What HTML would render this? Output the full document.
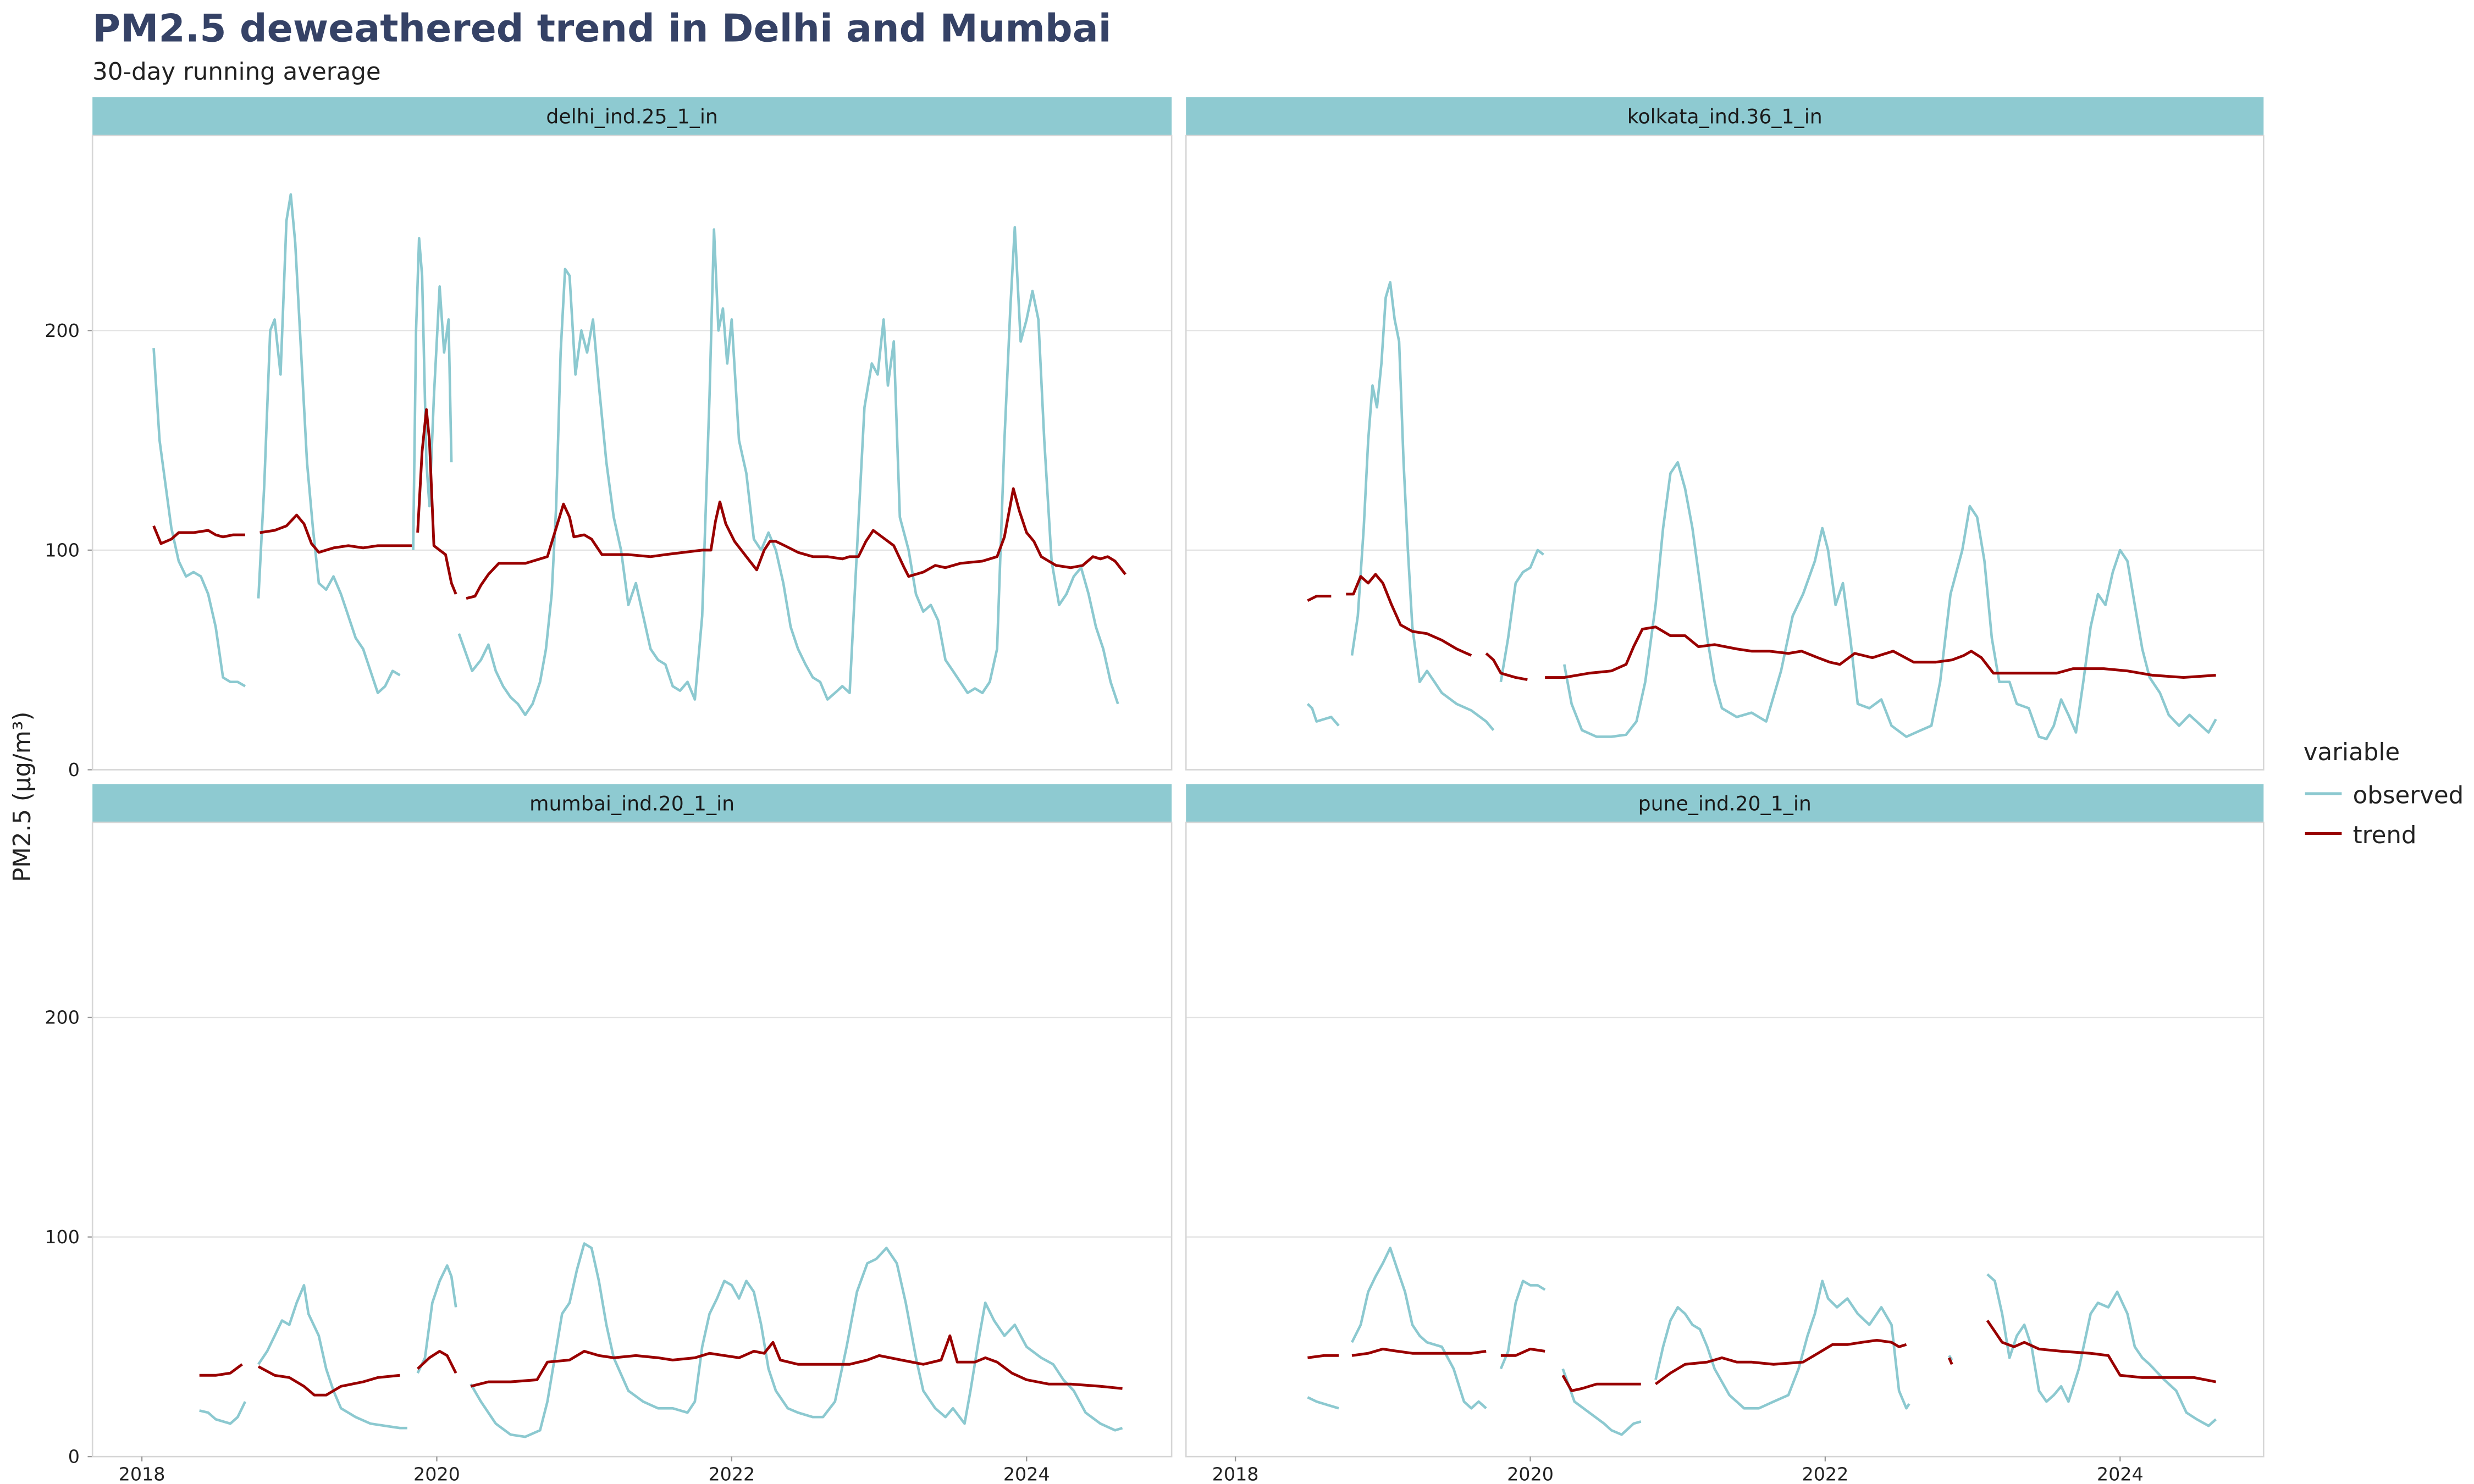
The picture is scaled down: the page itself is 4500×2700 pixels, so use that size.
<!DOCTYPE html>
<html><head><meta charset="utf-8"><style>
html,body{margin:0;padding:0;background:#fff;}
svg{display:block;font-family:"DejaVu Sans","Liberation Sans",sans-serif;}
</style></head><body>
<svg id="chart" width="4500" height="2700" viewBox="0 0 1552 931.2" xmlns="http://www.w3.org/2000/svg">
<rect width="1552" height="931.2" fill="#fff"/>
<text x="58" y="26" font-size="24" font-weight="bold" fill="#354266">PM2.5 deweathered trend in Delhi and Mumbai</text>
<text x="58" y="50" font-size="15" fill="#222">30-day running average</text>
<text transform="translate(19,500) rotate(-90)" text-anchor="middle" font-size="15" fill="#222">PM2.5 (µg/m³)</text>
<g>
<text x="1445" y="477" font-size="15" fill="#222">variable</text>
<line x1="1446" x2="1469" y1="498" y2="498" stroke="#8cc9d0" stroke-width="1.8"/>
<text x="1476" y="504" font-size="15" fill="#222">observed</text>
<line x1="1446" x2="1469" y1="523" y2="523" stroke="#990000" stroke-width="1.8"/>
<text x="1476" y="529" font-size="15" fill="#222">trend</text>
</g>
<g id="panels"></g>
</svg>
<script>
const yTickValues = [0, 100, 200];
const xTickYears = [2018, 2020, 2022, 2024];
const panelNames = ["delhi_ind.25_1_in", "kolkata_ind.36_1_in", "mumbai_ind.20_1_in", "pune_ind.20_1_in"];

// Delhi
const delhiObsYears = [2018.08,2018.12,2018.16,2018.2,2018.25,2018.3,2018.35,2018.4,2018.45,2018.5,2018.55,2018.6,2018.65,2018.7,2018.74,
 2018.79,2018.83,2018.87,2018.9,2018.94,2018.98,2019.01,2019.04,2019.08,2019.12,2019.16,2019.2,2019.25,2019.3,2019.35,2019.4,2019.45,2019.5,2019.55,2019.6,2019.65,2019.7,2019.75,2019.8,2019.83,2019.84,
 2019.86,2019.88,2019.9,2019.93,2019.95,2019.98,2020.02,2020.05,2020.08,2020.1,2020.13,2020.15,
 2020.24,2020.3,2020.35,2020.4,2020.45,2020.5,2020.55,2020.6,2020.65,2020.7,2020.74,2020.78,2020.81,2020.84,2020.87,2020.9,2020.94,2020.98,2021.02,2021.06,2021.1,2021.15,2021.2,2021.25,2021.3,2021.35,2021.4,2021.45,2021.5,2021.55,2021.6,2021.65,2021.7,2021.75,2021.8,2021.85,2021.88,2021.91,2021.94,2021.97,2022.0,2022.05,2022.1,2022.15,2022.2,2022.25,2022.3,2022.35,2022.4,2022.45,2022.5,2022.55,2022.6,2022.65,2022.7,2022.75,2022.8,2022.85,2022.9,2022.95,2022.99,2023.03,2023.06,2023.1,2023.14,2023.2,2023.25,2023.3,2023.35,2023.4,2023.45,2023.5,2023.55,2023.6,2023.65,2023.7,2023.75,2023.8,2023.85,2023.89,2023.92,2023.96,2024.0,2024.04,2024.08,2024.12,2024.17,2024.22,2024.27,2024.32,2024.37,2024.42,2024.47,2024.52,2024.57,2024.62,2024.67];
const delhiObsValues = [192,150,130,110,95,88,90,88,80,65,42,40,40,38,null,
 78,130,200,205,180,250,262,240,190,140,110,85,82,88,80,70,60,55,45,35,38,45,43,null,null,
 100,200,242,225,140,120,170,220,190,205,140,null,
 62,45,50,57,45,38,33,30,25,30,40,55,80,120,190,228,225,180,200,190,205,175,140,115,100,75,85,70,55,50,48,38,36,40,32,70,170,246,200,210,185,205,150,135,105,100,108,100,85,65,55,48,42,40,32,35,38,35,100,165,185,180,205,175,195,115,100,80,72,75,68,50,45,40,35,37,35,40,55,150,210,247,195,205,218,205,150,95,75,80,88,92,80,65,55,40,30];
const delhiTrendYears = [2018.08,2018.13,2018.2,2018.25,2018.35,2018.45,2018.5,2018.55,2018.62,2018.7,2018.74,
 2018.8,2018.9,2018.98,2019.05,2019.1,2019.15,2019.2,2019.3,2019.4,2019.5,2019.6,2019.83,2019.85,
 2019.87,2019.9,2019.93,2019.95,2019.98,2020.02,2020.06,2020.1,2020.13,2020.17,
 2020.2,2020.26,2020.3,2020.35,2020.42,2020.5,2020.6,2020.75,2020.8,2020.86,2020.9,2020.93,2021.0,2021.05,2021.12,2021.3,2021.45,2021.55,2021.8,2021.86,2021.89,2021.92,2021.96,2022.02,2022.1,2022.17,2022.22,2022.26,2022.3,2022.36,2022.45,2022.55,2022.65,2022.75,2022.8,2022.86,2022.91,2022.96,2023.02,2023.1,2023.17,2023.2,2023.3,2023.38,2023.45,2023.55,2023.7,2023.8,2023.85,2023.91,2023.95,2024.0,2024.05,2024.1,2024.2,2024.3,2024.38,2024.45,2024.5,2024.55,2024.6,2024.67];
const delhiTrendValues = [111,103,105,108,108,109,107,106,107,107,null,
 108,109,111,116,112,103,99,101,102,101,102,102,null,
 108,145,164,150,102,100,98,85,80,null,
 78,79,84,89,94,94,94,97,108,121,115,106,107,105,98,98,97,98,100,100,113,122,112,104,97,91,100,104,104,102,99,97,97,96,97,97,104,109,106,102,92,88,90,93,92,94,95,97,106,128,118,108,104,97,93,92,93,97,96,97,95,89];

// Kolkata
const kolkataObsYears = [2018.49,2018.52,2018.55,2018.6,2018.65,2018.7,2018.74,
 2018.79,2018.83,2018.87,2018.9,2018.93,2018.96,2018.99,2019.02,2019.05,2019.08,2019.11,2019.14,2019.17,2019.2,2019.25,2019.3,2019.35,2019.4,2019.5,2019.6,2019.7,2019.75,2019.77,
 2019.8,2019.85,2019.9,2019.95,2020.0,2020.05,2020.09,2020.15,
 2020.23,2020.28,2020.35,2020.45,2020.55,2020.65,2020.72,2020.78,2020.85,2020.9,2020.95,2021.0,2021.05,2021.1,2021.15,2021.2,2021.25,2021.3,2021.4,2021.5,2021.6,2021.7,2021.78,2021.85,2021.93,2021.98,2022.02,2022.07,2022.12,2022.17,2022.22,2022.3,2022.38,2022.45,2022.55,2022.65,2022.72,2022.78,2022.85,2022.93,2022.98,2023.03,2023.08,2023.13,2023.18,2023.25,2023.3,2023.38,2023.45,2023.5,2023.55,2023.6,2023.65,2023.7,2023.75,2023.8,2023.85,2023.9,2023.95,2024.0,2024.05,2024.1,2024.15,2024.2,2024.27,2024.33,2024.4,2024.47,2024.55,2024.6,2024.65];
const kolkataObsValues = [30,28,22,23,24,20,null,
 52,70,110,150,175,165,185,215,222,205,195,140,100,65,40,45,40,35,30,27,22,18,null,
 40,60,85,90,92,100,98,null,
 48,30,18,15,15,16,22,40,75,110,135,140,128,110,85,60,40,28,24,26,22,45,70,80,95,110,100,75,85,60,30,28,32,20,15,18,20,40,80,100,120,115,95,60,40,40,30,28,15,14,20,32,25,17,40,65,80,75,90,100,95,75,55,42,35,25,20,25,20,17,23];
const kolkataTrendYears = [2018.49,2018.55,2018.65,2018.7,
 2018.75,2018.8,2018.85,2018.9,2018.95,2019.0,2019.06,2019.12,2019.2,2019.3,2019.4,2019.5,2019.6,2019.67,
 2019.7,2019.75,2019.8,2019.9,2019.98,2020.02,
 2020.1,2020.23,2020.4,2020.55,2020.65,2020.7,2020.76,2020.85,2020.95,2021.05,2021.14,2021.25,2021.4,2021.5,2021.62,2021.75,2021.84,2021.95,2022.03,2022.1,2022.2,2022.32,2022.46,2022.6,2022.75,2022.86,2022.94,2022.99,2023.06,2023.14,2023.35,2023.57,2023.68,2023.89,2024.05,2024.22,2024.43,2024.65];
const kolkataTrendValues = [77,79,79,null,
 80,80,88,85,89,85,75,66,63,62,59,55,52,null,
 53,50,44,42,41,null,
 42,42,44,45,48,56,64,65,61,61,56,57,55,54,54,53,54,51,49,48,53,51,54,49,49,50,52,54,51,44,44,44,46,46,45,43,42,43];

// Mumbai
const mumbaiObsYears = [2018.39,2018.45,2018.5,2018.6,2018.65,2018.7,2018.74,
 2018.79,2018.85,2018.9,2018.95,2019.0,2019.05,2019.1,2019.13,2019.2,2019.25,2019.3,2019.35,2019.45,2019.55,2019.65,2019.75,2019.8,2019.83,
 2019.87,2019.92,2019.97,2020.02,2020.07,2020.1,2020.13,2020.17,
 2020.23,2020.3,2020.4,2020.5,2020.6,2020.7,2020.75,2020.8,2020.85,2020.9,2020.95,2021.0,2021.05,2021.1,2021.15,2021.2,2021.3,2021.4,2021.5,2021.6,2021.7,2021.75,2021.8,2021.85,2021.9,2021.95,2022.0,2022.05,2022.1,2022.15,2022.2,2022.25,2022.3,2022.38,2022.45,2022.55,2022.62,2022.7,2022.78,2022.85,2022.92,2022.98,2023.05,2023.12,2023.18,2023.25,2023.3,2023.38,2023.45,2023.5,2023.58,2023.62,2023.68,2023.72,2023.78,2023.85,2023.92,2024.0,2024.1,2024.18,2024.25,2024.32,2024.4,2024.5,2024.6,2024.65];
const mumbaiObsValues = [21,20,17,15,18,25,null,
 42,48,55,62,60,70,78,65,55,40,30,22,18,15,14,13,13,null,
 38,45,70,80,87,82,68,null,
 33,25,15,10,9,12,25,45,65,70,85,97,95,80,60,45,30,25,22,22,20,25,50,65,72,80,78,72,80,75,60,40,30,22,20,18,18,25,50,75,88,90,95,88,70,45,30,22,18,22,15,30,55,70,62,55,60,50,45,42,35,30,20,15,12,13];
const mumbaiTrendYears = [2018.39,2018.5,2018.6,2018.68,2018.74,
 2018.79,2018.9,2019.0,2019.1,2019.17,2019.25,2019.35,2019.5,2019.6,2019.75,2019.8,
 2019.87,2019.95,2020.02,2020.07,2020.13,2020.17,
 2020.23,2020.35,2020.5,2020.68,2020.75,2020.9,2021.0,2021.1,2021.2,2021.35,2021.5,2021.6,2021.75,2021.85,2021.95,2022.05,2022.15,2022.22,2022.28,2022.33,2022.45,2022.6,2022.8,2022.92,2023.0,2023.15,2023.3,2023.42,2023.48,2023.53,2023.65,2023.72,2023.8,2023.9,2024.0,2024.15,2024.3,2024.5,2024.65];
const mumbaiTrendValues = [37,37,38,42,null,
 41,37,36,32,28,28,32,34,36,37,null,
 40,45,48,46,38,null,
 32,34,34,35,43,44,48,46,45,46,45,44,45,47,46,45,48,47,52,44,42,42,42,44,46,44,42,44,55,43,43,45,43,38,35,33,33,32,31];

// Pune
const puneObsYears = [2018.49,2018.55,2018.6,2018.7,2018.74,
 2018.79,2018.85,2018.9,2018.95,2019.0,2019.05,2019.1,2019.15,2019.2,2019.25,2019.3,2019.4,2019.48,2019.55,2019.6,2019.65,2019.7,2019.74,
 2019.8,2019.85,2019.9,2019.95,2020.0,2020.05,2020.1,2020.15,
 2020.22,2020.3,2020.4,2020.5,2020.55,2020.62,2020.7,2020.75,2020.8,
 2020.85,2020.9,2020.95,2021.0,2021.05,2021.1,2021.15,2021.2,2021.25,2021.35,2021.45,2021.55,2021.65,2021.75,2021.82,2021.88,2021.93,2021.98,2022.02,2022.08,2022.15,2022.22,2022.3,2022.38,2022.45,2022.5,2022.55,2022.57,2022.6,
 2022.84,2022.86,2022.9,
 2023.1,2023.15,2023.2,2023.25,2023.3,2023.35,2023.4,2023.45,2023.5,2023.55,2023.6,2023.65,2023.72,2023.8,2023.85,2023.92,2023.98,2024.05,2024.1,2024.15,2024.2,2024.3,2024.38,2024.45,2024.52,2024.6,2024.65];
const puneObsValues = [27,25,24,22,null,
 52,60,75,82,88,95,85,75,60,55,52,50,40,25,22,25,22,null,
 40,48,70,80,78,78,76,null,
 40,25,20,15,12,10,15,16,null,
 35,50,62,68,65,60,58,50,40,28,22,22,25,28,40,55,65,80,72,68,72,65,60,68,60,30,22,24,null,
 46,44,null,
 83,80,65,45,55,60,50,30,25,28,32,25,40,65,70,68,75,65,50,45,42,35,30,20,17,14,17];
const puneTrendYears = [2018.49,2018.6,2018.7,2018.74,
 2018.79,2018.9,2019.0,2019.1,2019.2,2019.4,2019.6,2019.7,2019.74,
 2019.8,2019.9,2020.0,2020.1,2020.15,
 2020.22,2020.28,2020.35,2020.45,2020.6,2020.75,2020.8,
 2020.85,2020.95,2021.05,2021.2,2021.3,2021.4,2021.5,2021.65,2021.85,2021.95,2022.05,2022.15,2022.25,2022.35,2022.45,2022.5,2022.55,2022.6,
 2022.84,2022.86,2022.9,
 2023.1,2023.15,2023.2,2023.28,2023.35,2023.45,2023.6,2023.8,2023.92,2024.0,2024.15,2024.3,2024.5,2024.65];
const puneTrendValues = [45,46,46,null,
 46,47,49,48,47,47,47,48,null,
 46,46,49,48,null,
 37,30,31,33,33,33,null,
 33,38,42,43,45,43,43,42,43,47,51,51,52,53,52,50,51,null,
 45,42,null,
 62,57,52,50,52,49,48,47,46,37,36,36,36,34];

const panels = [
  {name: panelNames[0], x0: 58, x1: 735, top: 61, yr2018: 89, obsX: delhiObsYears, obsY: delhiObsValues, trX: delhiTrendYears, trY: delhiTrendValues, showY: true, showX: false},
  {name: panelNames[1], x0: 744, x1: 1420, top: 61, yr2018: 775, obsX: kolkataObsYears, obsY: kolkataObsValues, trX: kolkataTrendYears, trY: kolkataTrendValues, showY: false, showX: false},
  {name: panelNames[2], x0: 58, x1: 735, top: 492, yr2018: 89, obsX: mumbaiObsYears, obsY: mumbaiObsValues, trX: mumbaiTrendYears, trY: mumbaiTrendValues, showY: true, showX: true},
  {name: panelNames[3], x0: 744, x1: 1420, top: 492, yr2018: 775, obsX: puneObsYears, obsY: puneObsValues, trX: puneTrendYears, trY: puneTrendValues, showY: false, showX: true}
];
const NS = "http://www.w3.org/2000/svg";
const root = document.getElementById("panels");
function mk(tag, attrs, parent) {
  const e = document.createElementNS(NS, tag);
  for (const k in attrs) e.setAttribute(k, attrs[k]);
  parent.appendChild(e);
  return e;
}
panels.forEach((p, i) => {
  const g = mk("g", {}, root);
  
  
  const plotTop = p.top + 24, plotBot = p.top + 422;
  const yScale = v => plotBot - v * 1.378;
  const xScale = yr => p.yr2018 + (yr - 2018) * 92.5;
  const strip = mk("rect", {x: p.x0, y: p.top, width: p.x1 - p.x0, height: 24, fill: "#8ecad1"}, g);
  
  
  const st = mk("text", {x: (p.x0 + p.x1) / 2, y: p.top + 16.5, "text-anchor": "middle", "font-size": "12.5", fill: "#1a1a1a"}, g);
  st.textContent = p.name;
  
  
  yTickValues.forEach(v => {
    if (v > 0) {
      const gl = mk("line", {x1: p.x0, x2: p.x1, y1: yScale(v), y2: yScale(v), stroke: "#e3e3e3", "stroke-width": "0.8"}, g);
      
      
    }
    if (p.showY) {
      const t = mk("text", {x: 50, y: yScale(v) + 4, "text-anchor": "end", "font-size": "11.5", fill: "#222"}, g);
      t.textContent = v;
      
      
      mk("line", {x1: p.x0 - 3, x2: p.x0, y1: yScale(v), y2: yScale(v), stroke: "#999", "stroke-width": "0.8"}, g);
    }
  });
  const frame = mk("rect", {x: p.x0, y: plotTop, width: p.x1 - p.x0, height: plotBot - plotTop, fill: "none", stroke: "#d6d6d6", "stroke-width": "0.9"}, g);
  
  
  if (p.showX) {
    xTickYears.forEach(yr => {
      mk("line", {x1: xScale(yr), x2: xScale(yr), y1: plotBot, y2: plotBot + 3, stroke: "#999", "stroke-width": "0.8"}, g);
      const t = mk("text", {x: xScale(yr), y: plotBot + 15, "text-anchor": "middle", "font-size": "11.5", fill: "#222"}, g);
      t.textContent = yr;
      
      
    });
  }
  function pathFrom(xs, ys) {
    let d = "", pen = false;
    for (let k = 0; k < xs.length; k++) {
      if (ys[k] === null) { pen = false; continue; }
      d += (pen ? "L" : "M") + xScale(xs[k]).toFixed(1) + "," + yScale(ys[k]).toFixed(1);
      pen = true;
    }
    return d;
  }
  const obs = mk("path", {d: pathFrom(p.obsX, p.obsY), fill: "none", stroke: "#8cc9d0", "stroke-width": "1.6", "stroke-linejoin": "round"}, g);
  
  
  const tr = mk("path", {d: pathFrom(p.trX, p.trY), fill: "none", stroke: "#990000", "stroke-width": "1.7", "stroke-linejoin": "round"}, g);
  
  
});
</script>
</body></html>
